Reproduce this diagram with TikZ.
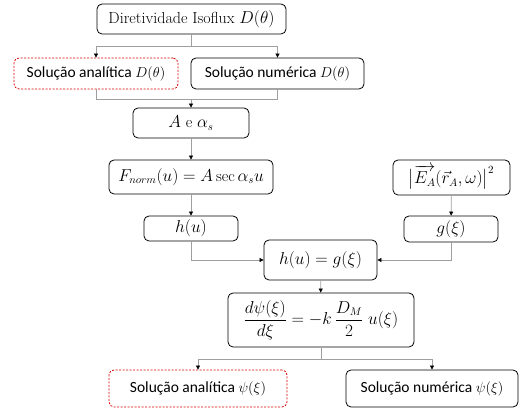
\documentclass[tikz,border=0pt]{standalone}
\usepackage{amsmath}
\usepackage{amssymb}
\usepackage{fontspec}
\newfontfamily\calibri{Carlito}
\usetikzlibrary{arrows.meta}

\tikzset{
  box/.style={draw=black, line width=0.8pt, rounded corners=5pt, inner sep=0pt,
    font=\fontsize{16}{19}\selectfont, align=center},
  redbox/.style={box, draw=red!85!black, dash pattern=on 2pt off 1.5pt},
  sans/.style={font=\fontsize{15.5}{19}\selectfont\calibri},
  link/.style={draw=gray!75, line width=0.7pt},
  arr/.style={link, -{Triangle[length=4pt, width=4pt, color=black]}}
}

\begin{document}
\begin{tikzpicture}[x=1pt, y=-1pt]
  \useasboundingbox (0,0) rectangle (520,411);

  % caixas
  \node[box, minimum width=189pt, minimum height=30pt] (dir) at (191.5,19) {Diretividade Isoflux $D(\theta)$};
  \node[redbox, sans, minimum width=164pt, minimum height=31pt] (anaD) at (96,73.5) {Solução analítica $D(\theta)$};
  \node[box, sans, minimum width=173pt, minimum height=31pt] (numD) at (277.5,73.5) {Solução numérica $D(\theta)$};
  \node[box, minimum width=116pt, minimum height=30pt] (alfa) at (191,123) {$A$ e $\alpha_s$};
  \node[box, minimum width=164pt, minimum height=34pt] (fnorm) at (191,177) {$F_{norm}(u) = A\sec\alpha_s u$};
  \node[box, minimum width=94pt, minimum height=25pt] (hu) at (191,228.5) {$h(u)$};
  \node[box, minimum width=117pt, minimum height=35pt] (campo) at (451.5,177.5) {$\bigl|\overrightarrow{E_A}(\vec{r}_A,\omega)\bigr|^2$};
  \node[box, minimum width=94pt, minimum height=26pt] (gxi) at (451,229) {$g(\xi)$};
  \node[box, minimum width=113pt, minimum height=40pt] (igual) at (320.5,260) {$h(u) = g(\xi)$};
  \node[box, minimum width=186pt, minimum height=54pt] (edo) at (321,320) {$\displaystyle\frac{d\psi(\xi)}{d\xi} = -k\,\frac{D_M}{2}\;u(\xi)$};
  \node[redbox, sans, minimum width=178pt, minimum height=37pt] (anaPsi) at (198,388.5) {Solução analítica $\psi(\xi)$};
  \node[box, sans, minimum width=172pt, minimum height=37pt] (numPsi) at (432,388.5) {Solução numérica $\psi(\xi)$};

  % pontos de junção
  \coordinate (j1) at (191.5,46);
  \coordinate (j2) at (191,99);
  \coordinate (j3) at (321,359);

  % ligações
  \draw[link] (dir.south) -- (j1);
  \draw[arr] (j1) -| (anaD.north);
  \draw[arr] (j1) -| (numD.north);
  \draw[link] (anaD.south) |- (j2);
  \draw[link] (numD.south) |- (j2);
  \draw[arr] (j2) -- (alfa.north);
  \draw[arr] (alfa) -- (fnorm);
  \draw[arr] (fnorm) -- (hu);
  \draw[arr] (campo) -- (gxi);
  \draw[arr] (hu.south) |- (igual.west);
  \draw[arr] (gxi.south) |- (igual.east);
  \draw[arr] (igual) -- (edo);
  \draw[link] (edo.south) -- (j3);
  \draw[arr] (j3) -| (anaPsi.north);
  \draw[arr] (j3) -| (numPsi.north);
\end{tikzpicture}
\end{document}
